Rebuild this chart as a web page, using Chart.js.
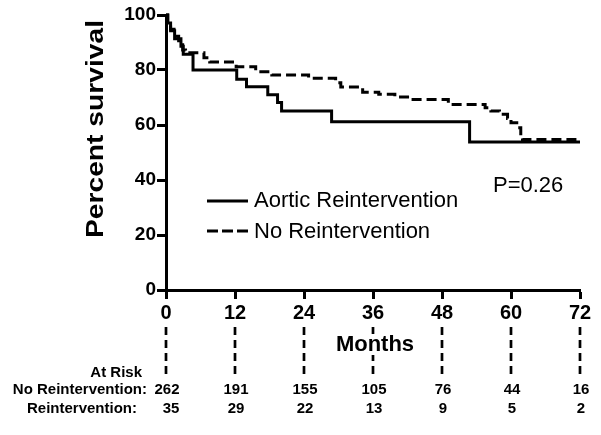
<!DOCTYPE html>
<html>
<head>
<meta charset="utf-8">
<script src="https://cdn.jsdelivr.net/npm/chart.js@4.4.0/dist/chart.umd.min.js"></script>
<style>
  html, body { margin: 0; padding: 0; background: #fff; }
  #wrap { width: 601px; height: 435px; }
</style>
</head>
<body>
<div id="wrap"><canvas id="km"></canvas></div>
<script>
// Kaplan-Meier estimates (months, percent survival)
const reTimes = [0, 0.3, 0.8, 1.5, 2.6, 3.0, 4.7, 12.3, 14.0, 17.7, 19.4, 20.1, 28.8, 52.8, 72];
const reSurv  = [100, 97.1, 94.3, 91.4, 88.6, 85.7, 80.0, 76.6, 73.9, 71.0, 68.2, 65.1, 61.2, 53.8, 53.8];

const noTimes = [0, 0.3, 0.8, 1.4, 2.2, 2.9, 3.4, 6.6, 7.6, 12.2, 15.6, 18.4, 24.8, 29.5, 30.4, 34.2,
                 37.0, 39.8, 42.6, 49.1, 55.5, 56.5, 58.0, 59.4, 60.0, 61.0, 61.7, 62.0, 72];
const noSurv  = [100, 97.3, 94.8, 92.3, 89.8, 87.3, 86.3, 84.5, 82.9, 81.2, 79.4, 78.2, 77.0, 75.4, 73.8, 71.9,
                 71.2, 70.2, 69.3, 67.5, 66.3, 65.1, 63.9, 62.4, 60.8, 59.0, 55.6, 54.7, 54.7];

// numbers at risk table
const riskMonths = [0, 12, 24, 36, 48, 60, 72];
const riskNo = [262, 191, 155, 105, 76, 44, 16];
const riskRe = [35, 29, 22, 13, 9, 5, 2];

const seriesNames = ["Aortic Reintervention", "No Reintervention"];
const pText = "P=0.26";

const FONT = "'Liberation Sans', Arial, Helvetica, sans-serif";

function toPoints(xs, ys) {
  return xs.map((x, i) => ({ x: x, y: ys[i] }));
}

const extras = {
  id: "extras",
  afterDraw(chart) {
    const ctx = chart.ctx;
    const xs = chart.scales.x;
    ctx.save();
    ctx.fillStyle = "#000";
    ctx.strokeStyle = "#000";

    // y axis title, stretched along its length like the original
    ctx.save();
    ctx.font = "bold 23px " + FONT;
    const title = "Percent survival";
    const tw = ctx.measureText(title).width;
    ctx.translate(97, 129);
    ctx.rotate(-Math.PI / 2);
    ctx.scale(218 / tw, 1);
    ctx.textAlign = "center";
    ctx.textBaseline = "middle";
    ctx.fillText(title, 0, 0);
    ctx.restore();

    // legend
    ctx.lineWidth = 3;
    ctx.beginPath();
    ctx.moveTo(207, 201);
    ctx.lineTo(248, 201);
    ctx.stroke();
    ctx.setLineDash([11, 4]);
    ctx.beginPath();
    ctx.moveTo(207, 231);
    ctx.lineTo(250, 231);
    ctx.stroke();
    ctx.setLineDash([]);
    ctx.font = "22px " + FONT;
    ctx.textAlign = "left";
    ctx.textBaseline = "middle";
    ctx.fillText(seriesNames[0], 254, 201);
    ctx.fillText(seriesNames[1], 254, 232);
    ctx.fillText(pText, 493, 186);

    // dashed drop lines under the axis ticks
    ctx.lineWidth = 2.7;
    ctx.setLineDash([8, 5]);
    riskMonths.forEach(m => {
      const px = xs.getPixelForValue(m);
      ctx.beginPath();
      ctx.moveTo(px, 327);
      ctx.lineTo(px, 377);
      ctx.stroke();
    });
    ctx.setLineDash([]);

    // x axis title with white background
    ctx.font = "bold 22px " + FONT;
    const mx = xs.getPixelForValue(36) + 2;
    const mw = ctx.measureText("Months").width;
    ctx.fillStyle = "#fff";
    ctx.fillRect(mx - mw / 2 - 1, 334, mw + 2, 21);
    ctx.fillStyle = "#000";
    ctx.textAlign = "center";
    ctx.fillText("Months", mx, 345);

    // at risk table
    ctx.font = "bold 15px " + FONT;
    ctx.textAlign = "right";
    ctx.fillText("At Risk", 142, 373);
    ctx.fillText("No Reintervention:", 147, 390);
    ctx.fillText("Reintervention:", 137, 409);
    ctx.textAlign = "center";
    riskMonths.forEach((m, i) => {
      const px = xs.getPixelForValue(m) + 1;
      ctx.fillText(String(riskNo[i]), px, 390);
      ctx.fillText(String(riskRe[i]), px + (i === 0 ? 4 : 0), 409);
    });
    ctx.restore();
  }
};

const ctx = document.getElementById("km").getContext("2d");
new Chart(ctx, {
  type: "line",
  data: {
    datasets: [
      {
        label: seriesNames[0],
        data: toPoints(reTimes, reSurv),
        stepped: true,
        borderColor: "#000",
        borderWidth: 3,
        pointRadius: 0,
        fill: false,
        clip: 6
      },
      {
        label: seriesNames[1],
        data: toPoints(noTimes, noSurv),
        stepped: true,
        borderColor: "#000",
        borderWidth: 3,
        borderDash: [10, 5],
        pointRadius: 0,
        fill: false,
        clip: 6
      }
    ]
  },
  options: {
    responsive: true,
    maintainAspectRatio: false,
    animation: false,
    events: [],
    layout: { padding: { left: 0, right: 21, top: 15, bottom: 0 } },
    plugins: {
      legend: { display: false },
      tooltip: { enabled: false }
    },
    scales: {
      x: {
        type: "linear",
        min: 0,
        max: 72,
        afterFit: s => { s.height = 145; },
        ticks: {
          stepSize: 12,
          color: "#000",
          padding: 2,
          maxRotation: 0,
          font: { family: FONT, size: 20, weight: "bold" }
        },
        grid: {
          drawOnChartArea: false,
          color: "#000",
          tickLength: 9,
          tickWidth: 3
        },
        border: { color: "#000", width: 3 }
      },
      y: {
        min: 0,
        max: 100,
        afterFit: s => { s.width = 166; },
        ticks: {
          stepSize: 20,
          color: "#000",
          padding: 1,
          font: { family: FONT, size: 19, weight: "bold" }
        },
        grid: {
          drawOnChartArea: false,
          color: "#000",
          tickLength: 9,
          tickWidth: 3
        },
        border: { color: "#000", width: 3 }
      }
    }
  },
  plugins: [extras]
});
</script>
</body>
</html>
